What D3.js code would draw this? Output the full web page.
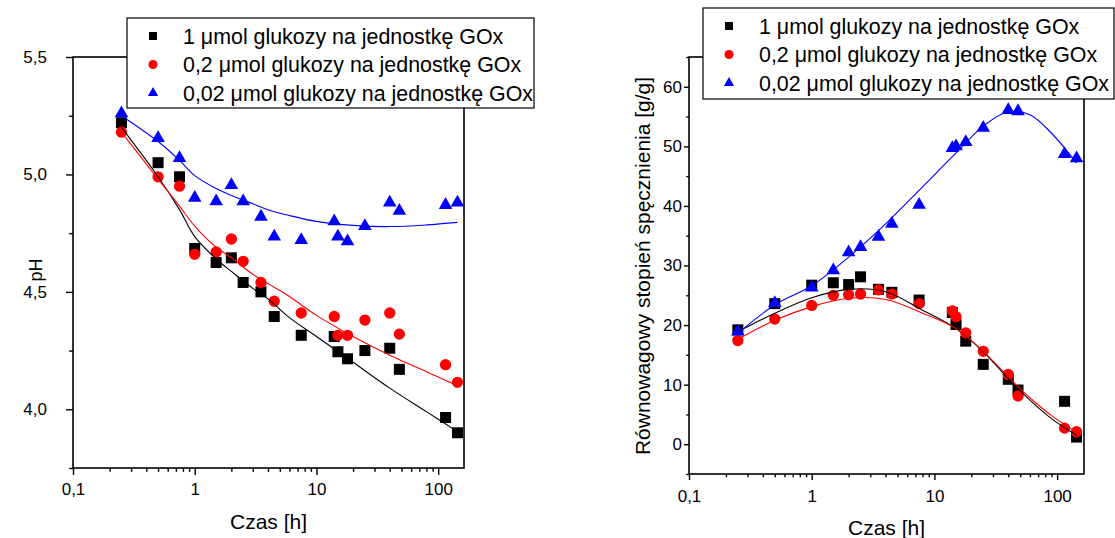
<!DOCTYPE html>
<html>
<head>
<meta charset="utf-8">
<script src="https://cdn.jsdelivr.net/npm/d3@7"></script>
<style>
  body { margin: 0; background: #fff; }
  svg { display: block; font-family: "Liberation Sans", Arial, sans-serif; }
</style>
</head>
<body>
<script>
// Series names, shared by both panels.
var seriesNames = [
  "1 \u03bcmol glukozy na jednostkę GOx",
  "0,2 \u03bcmol glukozy na jednostkę GOx",
  "0,02 \u03bcmol glukozy na jednostkę GOx"
];
var seriesColors = ["#000000", "#ff0000", "#0000ff"];

// Left panel: pH vs time [h]
var phTimes = [0.25, 0.5, 0.75, 1, 1.5, 2, 2.5, 3.5, 4.5, 7.5, 14, 15, 18, 25, 40, 48, 115, 144];
var phBlack = [5.22, 5.05, 4.99, 4.685, 4.625, 4.645, 4.54, 4.50, 4.395, 4.315, 4.31, 4.245, 4.215, 4.25, 4.26, 4.17, 3.965, 3.90];
var phRed   = [5.18, 4.99, 4.95, 4.66, 4.67, 4.725, 4.63, 4.54, 4.46, 4.41, 4.395, 4.315, 4.315, 4.38, 4.41, 4.32, 4.19, 4.115];
var phBlue  = [5.26, 5.155, 5.07, 4.90, 4.885, 4.955, 4.885, 4.82, 4.735, 4.72, 4.80, 4.735, 4.715, 4.78, 4.88, 4.845, 4.87, 4.88];

// Fitted curves
var phFitTimes = [0.25, 0.5, 0.75, 1, 1.5, 2, 3, 4, 6, 10, 20, 40, 80, 144];
var phFitBlack = [5.20, 4.99, 4.85, 4.735, 4.64, 4.587, 4.515, 4.47, 4.39, 4.31, 4.20, 4.09, 3.99, 3.905];
var phFitRed   = [5.18, 4.98, 4.865, 4.78, 4.69, 4.645, 4.575, 4.535, 4.48, 4.40, 4.31, 4.23, 4.16, 4.10];
var phFitBlue  = [5.25, 5.14, 5.06, 4.995, 4.94, 4.91, 4.875, 4.85, 4.825, 4.80, 4.783, 4.778, 4.785, 4.796];

var phTicks = [4.0, 4.5, 5.0, 5.5];
var phMinorTicks = [3.75, 4.25, 4.75, 5.25];

// Right panel: equilibrium swelling degree [g/g] vs time [h]
var swTimes = [0.25, 0.5, 1, 1.5, 2, 2.5, 3.5, 4.5, 7.5, 14, 15, 18, 25, 40, 48, 115, 144];
var swBlack = [19.2, 23.6, 26.7, 27.1, 26.8, 28.1, 26.0, 25.5, 24.2, 22.1, 20.1, 17.3, 13.4, 10.9, 9.1, 7.2, 1.2];
var swRed   = [17.4, 21.0, 23.3, 25.0, 25.1, 25.2, 25.9, 25.2, 23.6, 22.4, 21.4, 18.7, 15.6, 11.7, 8.1, 2.7, 2.1];
var swBlue  = [18.9, 23.7, 26.3, 29.2, 32.2, 33.1, 34.8, 37.0, 40.2, 49.7, 50.0, 50.7, 53.1, 56.1, 55.9, 48.7, 48.0];

var swFitTimes = [0.25, 0.5, 1, 2, 4, 8, 15, 25, 40, 60, 90, 144];
var swFitBlack = [18.9, 22.0, 24.6, 26.0, 25.6, 22.5, 19.4, 15.5, 11.0, 7.4, 4.3, 1.5];
var swFitRed   = [17.6, 20.8, 23.1, 24.5, 24.3, 22.0, 19.4, 15.6, 11.3, 7.8, 4.8, 2.0];
var swFitBlue  = [18.6, 23.4, 26.6, 31.4, 37.0, 43.2, 48.9, 53.4, 55.8, 55.3, 52.2, 47.2];

var swTicks = [0, 10, 20, 30, 40, 50, 60];
var swMinorTicks = [-5, 5, 15, 25, 35, 45, 55, 65];

(function(d3) {

  var width = 1115, height = 538;

  var svg = d3.select("body").append("svg")
    .attr("width", width)
    .attr("height", height);

  // Polish number format: decimal comma
  var locale = d3.formatLocale({decimal: ",", thousands: " ", grouping: [3], currency: ["", ""]});
  var fmtTime = locale.format("~g");

  var symbols = [d3.symbolSquare, d3.symbolCircle, d3.symbolTriangle];
  var plotSizes = [121, 100, 80];
  var legendSizes = [64, 64, 46];

  function isDecade(d) {
    var l = Math.log10(d);
    return Math.abs(l - Math.round(l)) < 1e-6;
  }

  function panel(p) {
    var x = d3.scaleLog().domain([0.1, p.xMax]).range([p.left, p.right]),
      y = d3.scaleLinear().domain(p.yDomain).range([p.bottom, p.top]);

    var g = svg.append("g");

    // x axis: decades labelled, 2..9 as minor ticks
    var xAxis = d3.axisBottom(x)
      .tickValues(x.ticks())
      .tickSizeOuter(0)
      .tickSize(p.xTick[0])
      .tickPadding(p.xTick[1])
      .tickFormat(function(d) { return isDecade(d) ? fmtTime(d) : ""; });

    var gx = g.append("g")
      .attr("transform", "translate(0," + p.bottom + ")")
      .call(xAxis)
      .attr("font-size", 17)
      .attr("font-family", null);
    gx.select(".domain").remove();
    gx.selectAll(".tick line")
      .attr("stroke-width", 1.4)
      .attr("y2", function(d) { return isDecade(d) ? p.xTick[0] : p.xTick[0] * 0.55; });

    // y axis
    var major = p.yTicks;
    var yAxis = d3.axisLeft(y)
      .tickValues(major.concat(p.yMinor))
      .tickSizeOuter(0)
      .tickSize(p.yTick[0])
      .tickPadding(p.yTick[1])
      .tickFormat(function(d) { return major.indexOf(d) >= 0 ? p.yFormat(d) : ""; });

    var gy = g.append("g")
      .attr("transform", "translate(" + p.left + ",0)")
      .call(yAxis)
      .attr("font-size", 17)
      .attr("font-family", null);
    gy.select(".domain").remove();
    gy.selectAll(".tick line")
      .attr("stroke-width", 1.4)
      .attr("x2", function(d) { return major.indexOf(d) >= 0 ? -p.yTick[0] : -p.yTick[0] * 0.55; });

    // frame
    g.append("rect")
      .attr("x", p.left)
      .attr("y", p.top)
      .attr("width", p.right - p.left)
      .attr("height", p.bottom - p.top)
      .attr("fill", "none")
      .attr("stroke", "#000")
      .attr("stroke-width", 1.6);

    // markers, black first so red and blue sit on top
    p.series.forEach(function(values, i) {
      g.append("g").selectAll("path")
        .data(values)
        .enter().append("path")
        .attr("transform", function(d, j) { return "translate(" + x(p.times[j]) + "," + y(d) + ")"; })
        .attr("d", d3.symbol().type(symbols[i]).size(plotSizes[i]))
        .attr("fill", seriesColors[i]);
    });

    // fitted curves
    var line = d3.line()
      .x(function(d) { return x(d[0]); })
      .y(function(d) { return y(d[1]); })
      .curve(d3.curveCatmullRom.alpha(0.5));

    p.fits.forEach(function(values, i) {
      g.append("path")
        .datum(p.fitTimes.map(function(t, j) { return [t, values[j]]; }))
        .attr("d", line)
        .attr("fill", "none")
        .attr("stroke", seriesColors[i])
        .attr("stroke-width", 1.1);
    });

    // axis titles
    g.append("text")
      .attr("x", (p.left + p.right) / 2)
      .attr("y", p.xTitleY)
      .attr("text-anchor", "middle")
      .attr("font-size", 21)
      .text("Czas [h]");

    g.append("text")
      .attr("transform", "translate(" + p.yTitle[0] + "," + p.yTitle[1] + ") rotate(-90)")
      .attr("text-anchor", "middle")
      .attr("font-size", p.yTitle[2])
      .text(p.yLabel);

    // legend box, drawn over the frame
    var lg = g.append("g").attr("transform", "translate(" + p.legend[0] + "," + p.legend[1] + ")");
    lg.append("rect")
      .attr("width", p.legend[2])
      .attr("height", p.legend[3])
      .attr("fill", "#fff")
      .attr("stroke", "#000")
      .attr("stroke-width", 1.2);

    seriesNames.forEach(function(name, i) {
      var cy = 18 + i * 28.5;
      lg.append("path")
        .attr("transform", "translate(26," + cy + ")")
        .attr("d", d3.symbol().type(symbols[i]).size(legendSizes[i]))
        .attr("fill", seriesColors[i]);
      lg.append("text")
        .attr("x", 56)
        .attr("y", cy + 7.5)
        .attr("font-size", 21.4)
        .text(name);
    });
  }

  panel({
    left: 73, right: 464, top: 57, bottom: 468,
    xMax: 163,
    yDomain: [3.75, 5.5],
    yTicks: phTicks, yMinor: phMinorTicks,
    yFormat: locale.format(".1f"),
    xTick: [7, 8], yTick: [7, 19],
    times: phTimes,
    series: [phBlack, phRed, phBlue],
    fitTimes: phFitTimes,
    fits: [phFitBlack, phFitRed, phFitBlue],
    xTitleY: 529,
    yTitle: [42, 270, 18],
    yLabel: "pH",
    legend: [127, 18, 407, 90]
  });

  panel({
    left: 689, right: 1084, top: 57, bottom: 474,
    xMax: 165.6,
    yDomain: [-5, 65],
    yTicks: swTicks, yMinor: swMinorTicks,
    yFormat: locale.format("d"),
    xTick: [6, 10], yTick: [5, 2],
    times: swTimes,
    series: [swBlack, swRed, swBlue],
    fitTimes: swFitTimes,
    fits: [swFitBlack, swFitRed, swFitBlue],
    xTitleY: 535,
    yTitle: [650, 266, 21],
    yLabel: "Równowagowy stopień spęcznienia [g/g]",
    legend: [703, 8, 411, 91]
  });

})(d3);
</script>
</body>
</html>
